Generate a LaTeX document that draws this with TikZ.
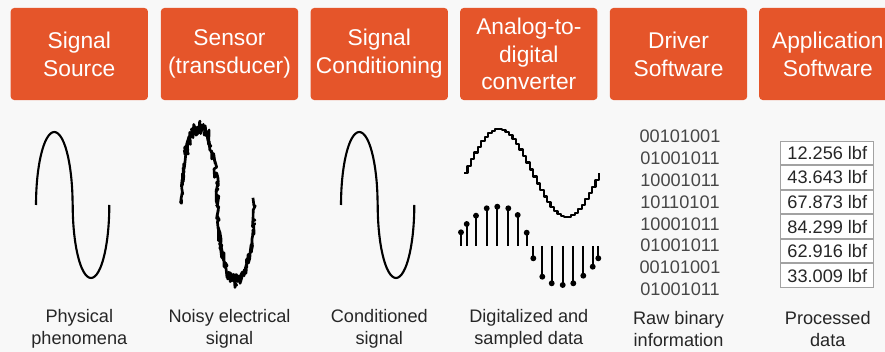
\documentclass[tikz,border=0pt]{standalone}
\usepackage{fontspec}
\setmainfont{Liberation Sans}
\usetikzlibrary{positioning}

\definecolor{stageorange}{HTML}{E5552A}
\definecolor{pagegray}{HTML}{F8F8F8}
\definecolor{captiongray}{HTML}{262626}
\definecolor{cellgray}{HTML}{A2A2A2}

\begin{document}
\begin{tikzpicture}[
    x=0.025cm, y=-0.025cm,
    stage/.style={
      fill=stageorange,
      rounded corners=2.5pt,
      minimum width=3.43cm,
      minimum height=2.3cm,
      align=center,
      text=white,
      font=\fontsize{16.2pt}{19.8pt}\selectfont},
    caption/.style={
      align=center,
      text=captiongray,
      font=\fontsize{12.9pt}{15.6pt}\selectfont},
    valuecell/.style={
      draw=cellgray,
      fill=white,
      line width=0.7pt,
      minimum width=2.33cm,
      minimum height=0.59cm,
      inner sep=0pt,
      text=captiongray,
      font=\fontsize{12.9pt}{15.6pt}\selectfont},
    wave/.style={line width=1.5pt, line join=round}
    ]

  \clip (0,0) rectangle (885,352);
  \fill[pagegray] (0,0) rectangle (885,352);

  % stages
  \node at (79.3,54) (source) [stage] {Signal\\Source};
  \node at (229.5,54) (sensor) [stage] {Sensor\\(transducer)};
  \node at (379.3,54) (conditioning) [stage] {Signal\\Conditioning};
  \node at (528.8,54) (adc) [stage] {Analog-to-\\digital\\converter};
  \node at (678.5,54) (driver) [stage] {Driver\\Software};
  \node at (827.8,54) (application) [stage] {Application\\Software};

  % signals (two half ellipses each)
  \draw[wave] plot[smooth, samples=31, domain=0:180] ({54.3-18.3*cos(\x)},{205-73*sin(\x)})
              plot[smooth, samples=31, domain=180:360] ({91+18.3*cos(\x)},{205-73*sin(\x)});

  \pgfmathsetseed{11}
  \draw[wave, line width=1.9pt] plot[samples=110, domain=0:180] ({199.3-18.3*cos(\x)+1.5*rand},{205-77*sin(\x)+7*rand})
              plot[samples=110, domain=180:360] ({236+18.3*cos(\x)+1.5*rand},{204-77*sin(\x)+7*rand});

  \draw[wave] plot[smooth, samples=31, domain=0:180] ({359.3-18.3*cos(\x)},{205-73*sin(\x)})
              plot[smooth, samples=31, domain=180:360] ({396+18.3*cos(\x)},{205-73*sin(\x)});

  \draw[wave] plot[const plot, samples=40, domain=0:360] ({464+\x/360*135},{173-44*sin(\x)});

  \foreach \sx/\sy in {461/232.3, 466.7/224, 476/215.7, 486.7/208.3, 497.3/206.7,
                       508.3/208.3, 517.7/215, 526.7/232.7, 533.3/258.3, 542.3/276.7,
                       551.7/283.3, 562.7/285, 573.3/283.3, 583.3/275.7, 592.7/266.7,
                       598.3/258.3}
  {
    \draw[line width=1.4pt] (\sx,246) -- (\sx,\sy);
    \fill (\sx,\sy) circle[radius=2.1pt];
  }

  % raw bytes
  \node at (680,213) (bytes) [caption, font=\fontsize{12.9pt}{15.5pt}\selectfont, text=captiongray!85]
    {00101001\\01001011\\10001011\\10110101\\10001011\\01001011\\00101001\\01001011};

  % processed values
  \node at (827.3,152.8) (val1) [valuecell] {12.256 lbf};
  \node (val2) [valuecell, below=0pt of val1] {43.643 lbf};
  \node (val3) [valuecell, below=0pt of val2] {67.873 lbf};
  \node (val4) [valuecell, below=0pt of val3] {84.299 lbf};
  \node (val5) [valuecell, below=0pt of val4] {62.916 lbf};
  \node (val6) [valuecell, below=0pt of val5] {33.009 lbf};

  % captions
  \node at (79.3,329) (cap1) [caption] {Physical\\phenomena};
  \node at (229.5,329) (cap2) [caption] {Noisy electrical\\signal};
  \node at (379.3,329) (cap3) [caption] {Conditioned\\signal};
  \node at (528.8,329) (cap4) [caption] {Digitalized and\\sampled data};
  \node at (678.5,329) (cap5) [caption] {Raw binary\\information};
  \node at (827.8,329) (cap6) [caption] {Processed\\data};

\end{tikzpicture}
\end{document}
